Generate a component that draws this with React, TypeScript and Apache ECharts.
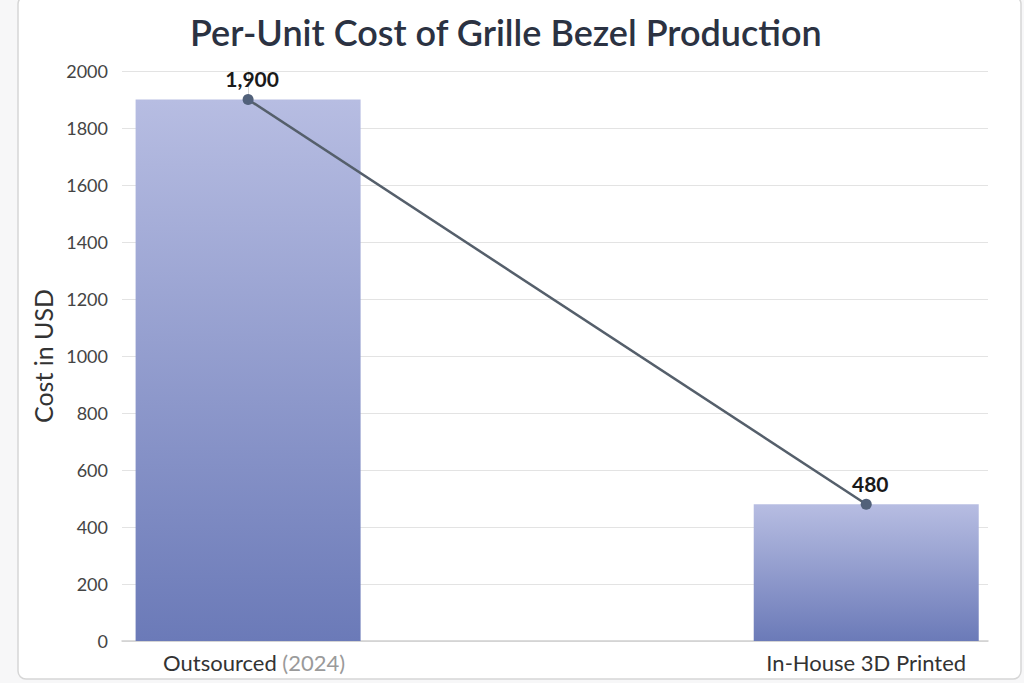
import React, { useEffect, useRef } from "react";
import * as echarts from "echarts";

const categories = ["Outsourced (2024)", "In-House 3D Printed"];
const costs = [1900, 480];
const yTicks = [0, 200, 400, 600, 800, 1000, 1200, 1400, 1600, 1800, 2000];

export default function App() {
  const ref = useRef<HTMLDivElement>(null);
  useEffect(() => {
    if (!ref.current) return;
    const chart = echarts.init(ref.current, null, { renderer: "svg" });
    const font = "Lato, 'Open Sans', sans-serif";
    chart.setOption({
      animation: false,
      textStyle: { fontFamily: font },
      graphic: [
        {
          type: "rect",
          shape: { x: 18, y: -4, width: 1003, height: 683, r: 8 },
          style: { fill: "#ffffff", stroke: "#d6d6d6", lineWidth: 1.5 },
          z: -10,
        },
      ],
      title: {
        text: "Per-Unit Cost of Grille Bezel Production",
        left: 185,
        top: 9,
        textStyle: { fontSize: 36, fontWeight: 600, color: "#2b3242", fontFamily: font },
      },
      grid: { left: 122, right: 36, top: 71, bottom: 42 },
      xAxis: {
        type: "value",
        min: -0.204,
        max: 1.197,
        splitLine: { show: false },
        axisLine: { show: true, lineStyle: { color: "#cfcfcf", width: 1.5 } },
        axisTick: { show: false },
        axisLabel: {
          customValues: [0, 1],
          margin: 10,
          fontSize: 22,
          color: "#333",
          formatter: (v: number) => {
            const name = categories[Math.round(v)] || "";
            const m = name.match(/^(.*?)\s*(\(.*\))$/);
            if (m) return `{p|}{a|${m[1]} }{b|${m[2]}}`;
            return `{a|${name}}`;
          },
          rich: {
            p: { width: 12 },
            a: { fontSize: 22, color: "#333", fontFamily: font },
            b: { fontSize: 22, color: "#9a9a9a", fontFamily: font },
          },
        },
      },
      yAxis: {
        type: "value",
        min: 0,
        max: 2000,
        interval: 200,
        name: "Cost in USD",
        nameLocation: "middle",
        nameGap: 67,
        nameTextStyle: { fontSize: 25, color: "#333", fontFamily: font },
        axisLine: { show: true, lineStyle: { color: "#d6d6d6" } },
        axisTick: { show: false },
        axisLabel: {
          fontSize: 18,
          color: "#444",
          margin: 14,
          formatter: (v: number) => (yTicks.includes(v) ? String(v) : ""),
        },
        splitLine: { lineStyle: { color: "#e3e3e3", width: 1 } },
      },
      series: [
        {
          type: "bar",
          data: costs.map((c, i) => [i, c]),
          barWidth: 225,
          itemStyle: {
            color: new echarts.graphic.LinearGradient(0, 0, 0, 1, [
              { offset: 0, color: "#b7bde2" },
              { offset: 1, color: "#6b7ab8" },
            ]),
          },
          z: 1,
        },
        {
          type: "line",
          data: costs.map((c, i) => [i, c]),
          symbol: "circle",
          symbolSize: 11,
          lineStyle: { color: "#555f6b", width: 2.5 },
          itemStyle: { color: "#52617a" },
          label: {
            show: true,
            position: "top",
            distance: 5,
            offset: [4, 0],
            fontSize: 21,
            fontWeight: "bold",
            color: "#1a1a1a",
            fontFamily: font,
            formatter: (p: any) => Number(p.value[1]).toLocaleString("en-US"),
          },
          z: 3,
        },
      ],
    });
    return () => chart.dispose();
  }, []);
  return (
    <div
      ref={ref}
      style={{ position: "fixed", left: 0, top: 0, width: 1024, height: 683, background: "#f7f7f8" }}
    />
  );
}
